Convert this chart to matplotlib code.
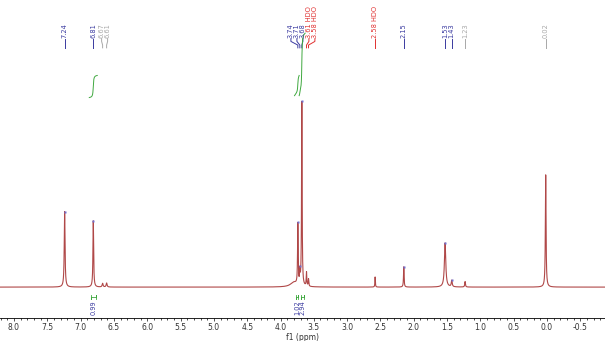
import matplotlib
matplotlib.use("Agg")
import matplotlib.pyplot as plt
import numpy as np

# peaks: position (ppm), height (tallest = 100), half width (ppm)
peak_ppm = [7.24, 6.81, 6.67, 6.61, 3.80, 3.74, 3.71, 3.68, 3.61, 3.58, 2.58, 2.15, 1.53, 1.43, 1.23, 0.02]
peak_h = [41.0, 36.0, 2.0, 2.2, 2.5, 33.0, 7.0, 100.0, 7.5, 4.0, 5.5, 11.0, 24.0, 3.5, 3.0, 61.0]
peak_w = [0.007, 0.006, 0.008, 0.008, 0.06, 0.005, 0.005, 0.005, 0.005, 0.005, 0.004, 0.005, 0.012, 0.008, 0.006, 0.006]

# peak labels
lab_ppm = [7.24, 6.81, 6.67, 6.61, 3.74, 3.71, 3.68, 3.61, 3.58, 2.58, 2.15, 1.53, 1.43, 1.23, 0.02]
lab_txt = ["7.24", "6.81", "6.67", "6.61", "3.74", "3.71", "3.68", "3.61 HDO", "3.58 HDO",
           "2.58 HDO", "2.15", "1.53", "1.43", "1.23", "0.02"]
lab_col = ["b", "b", "g", "g", "b", "b", "b", "r", "r", "r", "b", "b", "b", "g", "g"]

# integrations: from, to (ppm), value
int_from = [6.87, 3.79, 3.72]
int_to = [6.75, 3.72, 3.63]
int_val = ["0.99", "1.02", "2.94"]

cmap = {"b": "#3a3aa0", "g": "#a8a8a8", "r": "#e03030"}
spec_col = "#b04848"
green = "#3fa83f"

x = np.linspace(8.21, -0.87, 40000)
y = np.zeros_like(x)
for p, h, w in zip(peak_ppm, peak_h, peak_w):
    y += h * w**2 / ((x - p)**2 + w**2)

fig = plt.figure(figsize=(6.05, 3.41), dpi=100)
ax = fig.add_axes([0, 0.0674, 1, 0.9326])
ax.plot(x, y, color=spec_col, lw=0.8)

# blue tips on labelled peaks
for p, c in zip(lab_ppm, lab_col):
    if c == "b":
        i = np.argmin(np.abs(x - p))
        ax.plot([p], [y[i]], marker="s", ms=1.5, color="#7070d0", mec="none")

# label positions: spread clusters apart
min_gap = 0.09
pos = list(lab_ppm)
groups = [[0]]
for i in range(1, len(pos)):
    if lab_ppm[groups[-1][-1]] - lab_ppm[i] < min_gap:
        groups[-1].append(i)
    else:
        groups.append([i])
for g in groups:
    if len(g) > 1:
        c = np.mean([lab_ppm[i] for i in g])
        for k, i in enumerate(g):
            pos[i] = c + (len(g) - 1) / 2 * min_gap - k * min_gap

for p, tx, t, c in zip(lab_ppm, pos, lab_txt, lab_col):
    col = cmap[c]
    ax.plot([tx, tx, p, p], [135, 133.5, 131.5, 130], color=col, lw=0.7)
    ax.text(tx, 135.3, t, rotation=90, ha="center", va="bottom", fontsize=4.8, color=col)

# integral curves
for a, b in zip(int_from, int_to):
    m = (x <= a) & (x >= b)
    cs = np.cumsum(y[m])
    cs = cs / cs[-1]
    if a > 6:
        y0, y1 = 103, 115
    elif a > 3.75:
        y0, y1 = 104, 115
    else:
        y0, y1 = 104, 138
    ax.plot(x[m], y0 + cs * (y1 - y0), color=green, lw=0.7)

# integration brackets
for a, b, v in zip(int_from, int_to, int_val):
    a2, b2 = a - 0.02, b + 0.02
    ax.plot([a2, a2, a2, b2, b2, b2], [-4.2, -6.6, -5.4, -5.4, -4.2, -6.6], color=green, lw=0.6)
    ax.text((a + b) / 2, -7.0, v, rotation=90, ha="center", va="top", fontsize=4.8, color=cmap["b"])

ax.set_xlim(8.21, -0.87)
ax.set_ylim(-16.8, 156)
ax.set_xticks(np.arange(8.0, -0.6, -0.5))
ax.set_xticklabels([f"{t:.1f}" for t in np.arange(8.0, -0.6, -0.5)])
ax.set_xticks(np.arange(8.2, -0.9, -0.1), minor=True)
ax.tick_params(axis="x", which="major", length=2.5, width=0.6, labelsize=5.5, pad=0.8, colors="#333333")
ax.tick_params(axis="x", which="minor", length=1.5, width=0.5)
ax.set_yticks([])
for s in ["left", "right", "top"]:
    ax.spines[s].set_visible(False)
ax.spines["bottom"].set_linewidth(0.6)
ax.set_xlabel("f1 (ppm)", fontsize=5.5, color="#333333")
ax.xaxis.set_label_coords(0.5, -0.046)

fig.savefig("out.png", dpi=100)
